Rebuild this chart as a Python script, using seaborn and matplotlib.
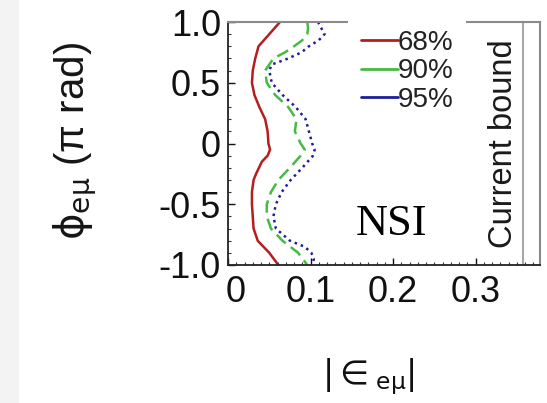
import matplotlib
matplotlib.use("Agg")
import matplotlib.pyplot as plt
from matplotlib.lines import Line2D
from matplotlib.patches import Rectangle
from matplotlib.ticker import MultipleLocator
from matplotlib.transforms import ScaledTranslation
import seaborn as sns
import pandas as pd

# ---- data ----
phi_68 = [1.0, 0.9, 0.8, 0.7, 0.6, 0.5, 0.4, 0.3, 0.2, 0.1, 0.0, -0.05, -0.1, -0.15,
          -0.25, -0.3, -0.4, -0.5, -0.6, -0.7, -0.8, -0.9, -1.0]
eps_68 = [0.063, 0.050, 0.037, 0.033, 0.030, 0.029, 0.032, 0.038, 0.045, 0.048, 0.049, 0.051,
          0.048, 0.041, 0.034, 0.031, 0.029, 0.029, 0.030, 0.031, 0.036, 0.050, 0.061]

phi_90 = [1.0, 0.95, 0.9, 0.85, 0.8, 0.75, 0.7, 0.6, 0.5, 0.4, 0.3, 0.2, 0.1, 0.0, -0.05,
          -0.1, -0.2, -0.3, -0.4, -0.5, -0.6, -0.7, -0.8, -0.9, -1.0]
eps_90 = [0.096, 0.097, 0.096, 0.090, 0.080, 0.069, 0.055, 0.045, 0.047, 0.057, 0.073, 0.083,
          0.081, 0.088, 0.093, 0.088, 0.075, 0.061, 0.052, 0.047, 0.047, 0.052, 0.066, 0.085, 0.096]

phi_95 = [1.0, 0.95, 0.9, 0.85, 0.8, 0.75, 0.7, 0.65, 0.6, 0.5, 0.4, 0.3, 0.2, 0.1, 0.0,
          -0.05, -0.1, -0.2, -0.3, -0.4, -0.5, -0.6, -0.7, -0.8, -0.85, -0.9, -0.95, -1.0]
eps_95 = [0.109, 0.113, 0.117, 0.110, 0.098, 0.089, 0.073, 0.053, 0.050, 0.053, 0.066, 0.082,
          0.094, 0.098, 0.102, 0.105, 0.103, 0.090, 0.076, 0.065, 0.058, 0.055, 0.058, 0.075,
          0.093, 0.101, 0.104, 0.102]

labels = ["68%", "90%", "95%"]
colors = ["#b41e1e", "#44bb44", "#1e1e96"]
styles = ["-", (0, (5, 2.5)), (0, (1, 1.6))]
current_bound = 0.358
xticks = [0, 0.1, 0.2, 0.3]
xticklabels = ["0", "0.1", "0.2", "0.3"]
yticks = [-1.0, -0.5, 0.0, 0.5, 1.0]
yticklabels = ["-1.0", "-0.5", "0", "0.5", "1.0"]

sns.set_style("ticks")
plt.rcParams["font.family"] = ["Liberation Sans", "DejaVu Sans"]
plt.rcParams["mathtext.fontset"] = "dejavusans"

W, H = 547, 403
fig = plt.figure(figsize=(W / 100, H / 100), dpi=100, facecolor="white")
fig.patches.append(Rectangle((0, 0), 19 / W, 1, transform=fig.transFigure,
                             facecolor="#f3f3f3", edgecolor="none", zorder=-10))
ax = fig.add_axes([228 / W, 1 - 265 / H, (540 - 228) / W, (265 - 22) / H])

series = [(phi_68, eps_68), (phi_90, eps_90), (phi_95, eps_95)]
for (ph, ep), lab, col, ls in zip(series, labels, colors, styles):
    df = pd.DataFrame({"phi": ph, "eps": ep})
    sns.lineplot(data=df, x="eps", y="phi", orient="y", sort=False, ax=ax,
                 color=col, linestyle=ls, linewidth=1.8, errorbar=None)

ax.axvline(current_bound, color="#a8a8a8", lw=1.5)

ax.set_xlim(0, 0.378)
ax.set_ylim(-1.0, 1.0)
ax.set_xticks(xticks)
ax.set_xticklabels(xticklabels)
ax.set_yticks(yticks)
ax.set_yticklabels(yticklabels)
ax.xaxis.set_minor_locator(MultipleLocator(0.01))
ax.yaxis.set_minor_locator(MultipleLocator(0.1))
ax.tick_params(axis="both", which="major", direction="in", length=5, width=1,
               labelsize=26, colors="#111111")
ax.tick_params(axis="y", which="major", pad=5)
ax.tick_params(axis="x", which="major", pad=7)
ax.tick_params(axis="both", which="minor", direction="in", length=2.5, width=0.8,
               colors="#333333")
ax.set_xlabel("")
ax.set_ylabel("")
# the "0" label in the reference sits a little right of its tick
lbl0 = ax.get_xticklabels()[0]
lbl0.set_transform(lbl0.get_transform() + ScaledTranslation(8 / 100, 0, fig.dpi_scale_trans))

for s in ["left", "bottom"]:
    ax.spines[s].set_color("#222222")
    ax.spines[s].set_linewidth(1.3)
for s in ["top", "right"]:
    ax.spines[s].set_visible(True)
    ax.spines[s].set_color("#8a8a8a")
    ax.spines[s].set_linewidth(1.5)

handles = [Line2D([], [], color=c, lw=2, ls="-") for c in colors]
leg = ax.legend(handles, labels, loc="upper left", bbox_to_anchor=(348 / W, 1 - 17 / H),
                bbox_transform=fig.transFigure, frameon=True, fancybox=False,
                facecolor="white", edgecolor="none", framealpha=1, fontsize=20,
                handlelength=1.35, handletextpad=0.0, labelspacing=0.1,
                borderpad=0.45, borderaxespad=0)
for t in leg.get_texts():
    t.set_color("#222222")

ax.text(503 / W, 1 - 144 / H, "Current bound", transform=fig.transFigure,
        rotation=90, ha="center", va="center", fontsize=23.5, color="#1a1a1a")
ax.text(392 / W, 1 - 224 / H, "NSI", transform=fig.transFigure,
        ha="center", va="center", fontsize=32, family="Liberation Serif", color="black")

fig.text(75 / W, 1 - 141 / H, r"$\mathrm{\phi}_{\mathrm{e\mu}}$ (π rad)", rotation=90,
         ha="center", va="center", fontsize=29, color="#151515")
fig.text(368 / W, 1 - 377 / H, r"$|{\in}_{\mathrm{e\mu}}|$", ha="center", va="center",
         fontsize=24, color="#111111")

fig.savefig("out.png", dpi=100, facecolor="white")
